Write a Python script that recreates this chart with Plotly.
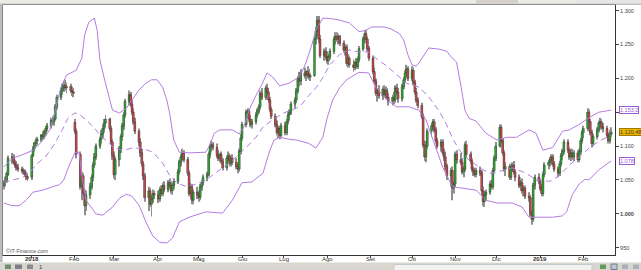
import pandas as pd
import plotly.graph_objects as go

# ---------------- daily candles (open, high, low, close) by month ----------------
dec_2017 = [(1042,1050,1036,1046),(1046,1055,1040,1048),(1050,1062,1046,1060),(1058,1086,1056,1082),
            (1082,1090,1074,1084),(1084,1088,1072,1076),(1076,1080,1068,1072),(1072,1078,1064,1068),
            (1068,1074,1062,1066),(1066,1070,1060,1064),(1064,1068,1058,1062),(1062,1066,1054,1058),
            (1058,1062,1050,1055),(1055,1060,1048,1052)]
jan_2018 = [(1054,1088,1050,1086),(1086,1100,1084,1096),(1096,1106,1092,1104),(1104,1112,1100,1108),
            (1108,1114,1102,1110),(1110,1118,1106,1116),(1116,1122,1110,1114),(1114,1124,1110,1121),
            (1121,1130,1116,1126),(1126,1134,1122,1130),(1130,1142,1126,1138),(1138,1144,1132,1136),
            (1136,1146,1130,1140),(1140,1162,1138,1158),(1158,1176,1154,1172),(1172,1186,1168,1182),
            (1182,1192,1176,1186),(1186,1196,1180,1190),(1190,1198,1182,1186),(1186,1194,1178,1188),
            (1188,1192,1178,1182),(1182,1188,1174,1180),(1180,1186,1172,1178)]
feb_2018 = [(1135,1140,1118,1122),(1122,1126,1082,1088),(1088,1092,1036,1040),(1040,1062,1020,1056),
            (1056,1060,1026,1030),(1030,1036,998,1012),(1012,1034,1004,1028),(1028,1046,1022,1040),
            (1040,1058,1036,1054),(1054,1076,1048,1072),(1072,1090,1068,1084),(1084,1104,1080,1100),
            (1100,1114,1096,1110),(1110,1124,1104,1118),(1118,1132,1112,1126),(1126,1140,1120,1134),
            (1134,1146,1128,1140),(1140,1142,1122,1126),(1126,1130,1102,1106),(1106,1110,1080,1086)]
mar_2018 = [(1086,1092,1052,1058),(1058,1084,1050,1080),(1080,1100,1070,1096),(1096,1118,1090,1114),
            (1114,1134,1108,1130),(1130,1150,1124,1146),(1146,1170,1142,1166),(1166,1182,1160,1176),
            (1176,1180,1158,1162),(1162,1168,1146,1150),(1150,1156,1132,1136),(1136,1142,1118,1122),
            (1122,1126,1100,1106),(1106,1112,1084,1090),(1090,1096,1070,1074),(1074,1078,1050,1056),
            (1056,1060,1018,1024),(1024,1040,1004,1034),(1034,1038,1010,1014),(1014,1028,996,1022),
            (1022,1036,1016,1030),(1030,1034,1022,1028)]
apr_2018 = [(1028,1034,1016,1022),(1022,1040,1018,1036),(1036,1042,1026,1030),(1030,1046,1026,1042),
            (1042,1048,1032,1036),(1036,1050,1032,1046),(1046,1052,1038,1042),(1042,1048,1030,1034),
            (1034,1046,1028,1042),(1042,1052,1036,1048),(1048,1066,1044,1062),(1062,1080,1058,1076),
            (1076,1088,1070,1084),(1084,1096,1078,1090),(1090,1094,1076,1080),(1080,1084,1056,1060),
            (1060,1064,1026,1030),(1030,1046,1022,1040),(1040,1044,1014,1020),(1020,1036,1014,1032),
            (1032,1040,1022,1028)]
may_2018 = [(1028,1034,1018,1024),(1024,1044,1020,1040),(1040,1050,1034,1046),(1046,1058,1042,1054),
            (1054,1062,1048,1058),(1058,1092,1056,1088),(1088,1104,1082,1100),(1100,1108,1092,1102),
            (1102,1106,1094,1098),(1098,1104,1082,1086),(1086,1094,1078,1082),(1082,1090,1076,1088),
            (1088,1092,1074,1078),(1078,1082,1064,1068),(1068,1086,1064,1082),(1082,1092,1078,1086),
            (1086,1090,1070,1074),(1074,1086,1070,1082),(1082,1088,1072,1076),(1076,1082,1066,1070),
            (1070,1074,1060,1066),(1066,1096,1062,1092),(1092,1118,1088,1112)]
jun_2018 = [(1112,1136,1108,1132),(1132,1154,1128,1150),(1150,1156,1142,1152),(1152,1154,1136,1140),
            (1140,1146,1128,1132),(1132,1140,1126,1136),(1136,1150,1132,1146),(1146,1156,1142,1152),
            (1152,1162,1148,1158),(1158,1182,1154,1178),(1178,1186,1168,1172),(1172,1190,1168,1186),
            (1186,1192,1176,1180),(1180,1186,1164,1168),(1168,1172,1150,1154),(1154,1158,1140,1144),
            (1144,1148,1128,1132),(1132,1138,1116,1120),(1120,1130,1112,1126),(1126,1130,1110,1116),
            (1116,1134,1112,1130)]
jul_2018 = [(1130,1136,1116,1120),(1120,1140,1116,1136),(1136,1150,1132,1146),(1146,1154,1138,1150),
            (1150,1166,1146,1162),(1162,1172,1156,1168),(1168,1186,1164,1182),(1182,1204,1178,1200),
            (1200,1210,1188,1196),(1196,1214,1190,1208),(1208,1216,1200,1204),(1204,1212,1196,1210),
            (1210,1218,1200,1206),(1206,1214,1198,1202),(1202,1208,1196,1204),(1204,1262,1202,1258),
            (1258,1276,1250,1270),(1270,1292,1262,1286),(1286,1292,1252,1258),(1258,1264,1230,1234),
            (1234,1244,1226,1240),(1240,1246,1228,1232)]
aug_2018 = [(1232,1240,1222,1226),(1226,1236,1220,1232),(1232,1244,1228,1240),(1240,1262,1236,1258),
            (1258,1268,1250,1262),(1262,1268,1254,1258),(1258,1266,1250,1262),(1262,1264,1248,1252),
            (1252,1256,1238,1242),(1242,1250,1234,1246),(1246,1250,1218,1222),(1222,1236,1216,1230),
            (1230,1234,1216,1220),(1220,1228,1210,1216),(1216,1226,1212,1224),(1224,1230,1214,1218),
            (1218,1232,1214,1228),(1228,1248,1224,1244),(1244,1262,1240,1258),(1258,1270,1252,1266),
            (1266,1272,1254,1258),(1258,1262,1240,1244),(1244,1248,1226,1230)]
sep_2018 = [(1230,1234,1206,1210),(1210,1216,1192,1196),(1196,1200,1174,1178),(1178,1186,1166,1182),
            (1182,1190,1170,1174),(1174,1188,1168,1184),(1184,1190,1172,1176),(1176,1188,1170,1182),
            (1182,1186,1168,1172),(1172,1178,1160,1166),(1166,1176,1160,1172),(1172,1180,1162,1168),
            (1168,1190,1164,1186),(1186,1192,1176,1180),(1180,1186,1164,1170),(1170,1192,1166,1188),
            (1188,1202,1184,1198),(1198,1212,1194,1208),(1208,1220,1202,1214),(1214,1218,1196,1200)]
oct_2018 = [(1200,1218,1196,1212),(1212,1216,1190,1194),(1194,1198,1176,1180),(1180,1186,1164,1168),
            (1168,1172,1156,1160),(1160,1164,1140,1144),(1144,1148,1098,1102),(1102,1108,1078,1084),
            (1084,1106,1076,1100),(1100,1126,1096,1122),(1122,1134,1114,1130),(1130,1140,1124,1136),
            (1136,1140,1120,1124),(1124,1128,1104,1108),(1108,1112,1096,1100),(1100,1110,1092,1106),
            (1106,1110,1086,1090),(1090,1096,1078,1084),(1084,1092,1064,1070),(1070,1074,1050,1056),
            (1056,1068,1040,1064),(1064,1070,1020,1038),(1038,1048,1030,1044)]
nov_2018 = [(1044,1092,1040,1088),(1088,1094,1074,1080),(1080,1090,1072,1076),(1076,1082,1058,1062),
            (1062,1070,1054,1066),(1066,1106,1062,1102),(1102,1108,1084,1088),(1088,1092,1074,1078),
            (1078,1082,1062,1066),(1066,1070,1056,1062),(1062,1068,1054,1058),(1058,1068,1054,1064),
            (1064,1070,1056,1060),(1060,1064,1028,1034),(1034,1040,1012,1018),(1018,1034,1010,1028),
            (1028,1036,1020,1032),(1032,1048,1028,1044),(1044,1050,1036,1040),(1040,1068,1036,1064),
            (1064,1086,1060,1082),(1082,1106,1078,1100)]
dec_2018 = [(1100,1132,1098,1128),(1128,1132,1104,1108),(1108,1112,1086,1090),(1090,1094,1062,1066),
            (1066,1076,1056,1070),(1070,1074,1050,1054),(1054,1072,1050,1068),(1068,1076,1062,1072),
            (1072,1078,1058,1062),(1062,1066,1048,1054),(1054,1058,1038,1042),(1042,1050,1034,1046),
            (1046,1052,1030,1034),(1034,1042,1026,1038),(1038,1042,1022,1026),(1026,1032,1018,1024),
            (1024,1028,996,1000),(1000,1006,984,992),(992,1046,988,1042),(1042,1058,1036,1054),
            (1054,1060,1044,1048)]
jan_2019 = [(1048,1052,1034,1038),(1038,1044,1026,1030),(1030,1062,1026,1058),(1058,1076,1054,1072),
            (1072,1080,1066,1076),(1076,1084,1070,1080),(1080,1088,1072,1084),(1084,1088,1070,1074),
            (1074,1078,1062,1066),(1066,1070,1054,1060),(1060,1078,1056,1074),(1074,1090,1070,1086),
            (1086,1096,1080,1092),(1092,1110,1088,1106),(1106,1110,1090,1094),(1094,1098,1080,1084),
            (1084,1096,1078,1090),(1090,1096,1080,1084),(1084,1094,1078,1090),(1090,1094,1076,1080),
            (1080,1096,1076,1092),(1092,1112,1088,1108),(1108,1124,1104,1120)]
feb_2019 = [(1120,1130,1112,1126),(1126,1156,1122,1150),(1150,1154,1132,1136),(1136,1140,1116,1120),
            (1120,1124,1098,1104),(1104,1118,1100,1114),(1114,1128,1110,1124),(1124,1138,1120,1134),
            (1134,1142,1128,1136),(1136,1140,1124,1128),(1128,1134,1120,1126),(1126,1130,1112,1116),
            (1116,1120,1104,1108),(1108,1124,1104,1118),(1118,1128,1114,1120.48)]

month_starts = ["2017-12-12", "2018-01-01", "2018-02-01", "2018-03-01", "2018-04-01", "2018-05-01",
                "2018-06-01", "2018-07-01", "2018-08-01", "2018-09-01", "2018-10-01", "2018-11-01",
                "2018-12-01", "2019-01-01", "2019-02-01"]
month_rows = [dec_2017, jan_2018, feb_2018, mar_2018, apr_2018, may_2018, jun_2018, jul_2018,
              aug_2018, sep_2018, oct_2018, nov_2018, dec_2018, jan_2019, feb_2019]

# ---------------- Bollinger bands ----------------
upper_dates = ["2017-12-12","2017-12-18","2017-12-25","2017-12-29","2018-01-02","2018-01-08","2018-01-14",
    "2018-01-18","2018-01-22","2018-01-26","2018-01-30","2018-02-02","2018-02-06","2018-02-08","2018-02-11",
    "2018-02-15","2018-02-17","2018-02-19","2018-02-22","2018-02-26","2018-02-28","2018-03-05","2018-03-10",
    "2018-03-14","2018-03-19","2018-03-24","2018-03-28","2018-04-01","2018-04-05","2018-04-08","2018-04-10",
    "2018-04-13","2018-04-17","2018-04-24","2018-05-01","2018-05-06","2018-05-09","2018-05-12","2018-05-16",
    "2018-05-25","2018-05-30","2018-06-02","2018-06-06","2018-06-11","2018-06-15","2018-06-19","2018-06-23",
    "2018-06-28","2018-07-05","2018-07-11","2018-07-14","2018-07-17","2018-07-21","2018-07-24","2018-07-29",
    "2018-08-05","2018-08-10","2018-08-17","2018-08-24","2018-08-29","2018-09-02","2018-09-11","2018-09-16",
    "2018-09-22","2018-09-25","2018-09-28","2018-10-01","2018-10-04","2018-10-06","2018-10-10","2018-10-13",
    "2018-10-21","2018-10-26","2018-10-29","2018-11-02","2018-11-05","2018-11-08","2018-11-11","2018-11-16",
    "2018-11-23","2018-12-01","2018-12-08","2018-12-15","2018-12-24","2018-12-29","2019-01-03","2019-01-10",
    "2019-01-17","2019-01-22","2019-01-29","2019-02-05","2019-02-12","2019-02-21"]
upper_vals = [1069,1082,1087,1090,1094,1106,1124,
    1153,1187,1205,1209,1212,1230,1264,1283,
    1289,1271,1227,1201,1168,1153,1149,1156,
    1168,1183,1193,1198,1198,1187,1168,1149,
    1109,1091,1090,1090,1091,1102,1119,1124,
    1124,1118,1127,1153,1175,1190,1208,1202,
    1189,1193,1201,1209,1224,1249,1271,1289,
    1288,1286,1282,1269,1271,1276,1276,1273,
    1266,1257,1235,1220,1218,1223,1235,1245,
    1243,1240,1232,1224,1190,1153,1141,1137,
    1119,1109,1113,1113,1124,1119,1094,1098,
    1122,1124,1132,1142,1150,1153.2]

mid_dates = ["2017-12-12","2017-12-18","2017-12-25","2017-12-31","2018-01-04","2018-01-12","2018-01-17",
    "2018-01-23","2018-01-27","2018-02-01","2018-02-04","2018-02-09","2018-02-15","2018-02-19","2018-02-26",
    "2018-03-01","2018-03-08","2018-03-14","2018-03-21","2018-03-29","2018-04-05","2018-04-10","2018-04-15",
    "2018-04-21","2018-04-28","2018-05-06","2018-05-14","2018-05-23","2018-06-04","2018-06-11","2018-06-16",
    "2018-06-23","2018-07-01","2018-07-10","2018-07-14","2018-07-19","2018-07-24","2018-07-29","2018-08-03",
    "2018-08-10","2018-08-17","2018-08-24","2018-08-31","2018-09-05","2018-09-13","2018-09-20","2018-09-27",
    "2018-10-06","2018-10-13","2018-10-21","2018-10-26","2018-10-30","2018-11-04","2018-11-11","2018-11-21",
    "2018-11-26","2018-12-03","2018-12-12","2018-12-22","2018-12-29","2019-01-08","2019-01-15","2019-01-22",
    "2019-01-29","2019-02-05","2019-02-12","2019-02-21"]
mid_vals = [1046,1050,1053,1062,1072,1087,1102,
    1124,1141,1149,1147,1139,1127,1116,1104,
    1097,1094,1097,1097,1091,1075,1057,1046,
    1041,1043,1050,1062,1075,1098,1113,1128,
    1139,1149,1156,1162,1175,1186,1201,1220,
    1235,1242,1239,1239,1230,1218,1205,1193,
    1187,1173,1150,1131,1112,1094,1079,1065,
    1060,1063,1068,1060,1050,1048,1057,1072,
    1084,1097,1107,1116]

lower_dates = ["2017-12-12","2017-12-18","2017-12-23","2017-12-28","2018-01-02","2018-01-09","2018-01-16",
    "2018-01-21","2018-01-24","2018-01-28","2018-02-01","2018-02-04","2018-02-06","2018-02-09","2018-02-14",
    "2018-02-16","2018-02-21","2018-02-24","2018-02-28","2018-03-05","2018-03-10","2018-03-14","2018-03-19",
    "2018-03-24","2018-03-29","2018-04-03","2018-04-08","2018-04-12","2018-04-17","2018-04-24","2018-05-06",
    "2018-05-18","2018-05-25","2018-06-01","2018-06-08","2018-06-16","2018-06-21","2018-06-24","2018-06-28",
    "2018-07-05","2018-07-10","2018-07-19","2018-07-24","2018-07-29","2018-08-01","2018-08-05","2018-08-10",
    "2018-08-15","2018-08-24","2018-08-31","2018-09-05","2018-09-13","2018-09-20","2018-09-29","2018-10-06",
    "2018-10-11","2018-10-16","2018-10-23","2018-10-30","2018-11-06","2018-11-16","2018-11-23","2018-12-01",
    "2018-12-12","2018-12-19","2018-12-24","2019-01-01","2019-01-10","2019-01-17","2019-01-20","2019-01-24",
    "2019-01-29","2019-02-02","2019-02-05","2019-02-12","2019-02-21"]
lower_vals = [1016,1012,1012,1020,1032,1035,1040,
    1043,1050,1072,1090,1091,1057,1020,1006,
    1000,998,1003,1010,1023,1029,1026,1013,
    988,967,958,957,964,988,995,1003,
    1001,1020,1046,1047,1060,1094,1109,1113,
    1110,1109,1104,1097,1113,1141,1168,1186,
    1198,1209,1208,1187,1168,1158,1158,1153,
    1139,1109,1069,1040,1038,1035,1020,1016,
    1016,1010,995,995,995,997,1003,1028,
    1044,1051,1050,1065,1078]

tick_dates = ["2018-01-01","2018-02-01","2018-03-01","2018-04-01","2018-05-01","2018-06-01","2018-07-01",
              "2018-08-01","2018-09-01","2018-10-01","2018-11-01","2018-12-01","2019-01-01","2019-02-01"]
tick_labels = ["<b>2018</b>","Feb","Mar","Apr","Mag","Giu","Lug","Ago","Set","Ott","Nov","Dic","<b>2019</b>","Feb"]
y_ticks = [950, 1000, 1050, 1100, 1150, 1200, 1250, 1300]
y_labels = ["950", "<b>1.000</b>", "1.050", "1.100", "", "1.200", "1.250", "1.300"]

# ---------------- assemble ----------------
dates, o, h, l, c = [], [], [], [], []
for start, rows in zip(month_starts, month_rows):
    ds = pd.bdate_range(start=start, periods=len(rows))
    for d, (ro, rh, rl, rc) in zip(ds, rows):
        dates.append(d); o.append(ro); h.append(rh); l.append(rl); c.append(rc)

W, H = 641, 270
ML, MR, MT, MB = 3, 26, 5, 15
PW, PH = W - ML - MR, H - MT - MB
def px(xp):  # pixel x -> paper
    return (xp - ML) / PW
def py(yp):  # pixel y -> paper
    return (H - MB - yp) / PH

UP, DOWN = "#2DA82D", "#C8474A"
band = "#B57BE2"
DAY_MS = 86400000

fig = go.Figure()
fig.add_trace(go.Scatter(x=upper_dates, y=upper_vals, mode="lines", line=dict(color=band, width=1),
                         hoverinfo="skip", showlegend=False))
fig.add_trace(go.Scatter(x=lower_dates, y=lower_vals, mode="lines", line=dict(color=band, width=1),
                         hoverinfo="skip", showlegend=False))
fig.add_trace(go.Scatter(x=mid_dates, y=mid_vals, mode="lines", line=dict(color=band, width=1, dash="6px,4px"),
                         hoverinfo="skip", showlegend=False))
# wicks (grey shadows): bar from low to high
fig.add_trace(go.Bar(x=dates, base=l, y=[hh - ll for hh, ll in zip(h, l)], width=0.7 * DAY_MS,
                     marker=dict(color="#8f8f8f", line=dict(width=0)),
                     hoverinfo="skip", showlegend=False))
# candle bodies: bar from open to close
body_base = [min(a, b) for a, b in zip(o, c)]
body_size = [max(abs(b - a), 1.0) for a, b in zip(o, c)]
body_col = [UP if b >= a else DOWN for a, b in zip(o, c)]
fig.add_trace(go.Bar(x=dates, base=body_base, y=body_size, width=1.4 * DAY_MS,
                     marker=dict(color=body_col, line=dict(color="#2a2a2a", width=0.4)),
                     hoverinfo="skip", showlegend=False))

def prect(x0, x1, y0, y1, fill, line=None):
    return dict(type="rect", xref="paper", yref="paper", x0=px(x0), x1=px(x1), y0=py(y1), y1=py(y0),
                fillcolor=fill, line=line or dict(width=0), layer="above")

shapes = [
    prect(-2, W + 2, -2, 4.3, "#EDEBE5"),
    prect(476, 518, -2, 3.2, "#D4D1CA"),
    prect(575, W + 2, -2, 3.2, "#E4E7EA"),
    dict(type="line", xref="paper", yref="paper", x0=px(-2), x1=px(W + 2), y0=py(4.2), y1=py(4.2),
         line=dict(color="#A8A8A8", width=1), layer="above"),
    prect(-2, 2.6, 4.3, 262, "#BDBDBD"),
    prect(-2, W + 2, 262.5, H + 2, "#D9D6CF"),
    prect(394, 592, 264.5, H + 2, "#F2F2F0", dict(color="#C8C8C8", width=1)),
    # toolbar icons
    prect(5, 11, 264.5, 269, "#6F8F6F"),
    prect(15, 22, 264.5, 269, "#7A7F8A"),
    prect(27, 33, 264.5, 269, "#8A8A8A"),
    prect(600, 606, 264.5, 269, "#5E9A5E"),
    prect(611, 617, 264, 269.5, "#B9C4CF", dict(color="#6E7E90", width=1)),
    prect(622, 628, 264.5, 269, "#A8B0BA"),
    prect(633, 639, 264.5, 269, "#A8B0BA"),
]

annotations = [
    dict(xref="paper", yref="paper", x=px(4), y=py(251), text="©IT-Finance.com", showarrow=False,
         xanchor="left", yanchor="middle", font=dict(size=5.5, color="#555555")),
    dict(xref="paper", yref="y", x=1, xshift=4, y=1153.2, text="1.153,2", showarrow=False,
         xanchor="left", yanchor="middle", font=dict(size=5.5, color="#9A5CD0"),
         bgcolor="white", bordercolor="#9A5CD0", borderwidth=1, borderpad=0),
    dict(xref="paper", yref="y", x=1, xshift=4, y=1120.48, text="1.120,48", showarrow=False,
         xanchor="left", yanchor="middle", font=dict(size=5.5, color="#333333"),
         bgcolor="#F2B800", bordercolor="#9C7A00", borderwidth=1, borderpad=0),
    dict(xref="paper", yref="y", x=1, xshift=4, y=1078, text="1.078", showarrow=False,
         xanchor="left", yanchor="middle", font=dict(size=5.5, color="#9A5CD0"),
         bgcolor="white", bordercolor="#9A5CD0", borderwidth=1, borderpad=0),
    dict(xref="paper", yref="paper", x=px(37), y=py(267), text="1", showarrow=False,
         xanchor="left", yanchor="middle", font=dict(size=5.5, color="#333333")),
]
for td, tl in zip(tick_dates, tick_labels):
    annotations.append(dict(xref="x", yref="paper", x=td, y=py(258.8), text=tl, showarrow=False,
                            xanchor="center", yanchor="middle", font=dict(size=6, color="#333333")))

fig.update_layout(
    width=W, height=H, margin=dict(l=ML, r=MR, t=MT, b=MB),
    paper_bgcolor="white", plot_bgcolor="white", showlegend=False,
    hovermode=False, barmode="overlay",
    font=dict(family="Arial, Liberation Sans, sans-serif", size=6, color="#333333"),
    xaxis=dict(type="date", range=["2017-12-11 10:00", "2019-02-23 17:00"],
               tickvals=tick_dates, showticklabels=False, ticks="outside", ticklen=2,
               tickcolor="#444444", tickwidth=1, showline=True, linecolor="#333333", linewidth=1,
               mirror=True, showgrid=False, zeroline=False),
    yaxis=dict(side="right", range=[939.2, 1308.4], tickvals=y_ticks, ticktext=y_labels,
               ticks="outside", ticklen=3, tickcolor="#444444", showline=True, linecolor="#333333",
               linewidth=1, mirror=True, showgrid=False, zeroline=False,
               tickfont=dict(size=5.5, color="#444444")),
    shapes=shapes, annotations=annotations,
)

fig.write_html("out.html")
